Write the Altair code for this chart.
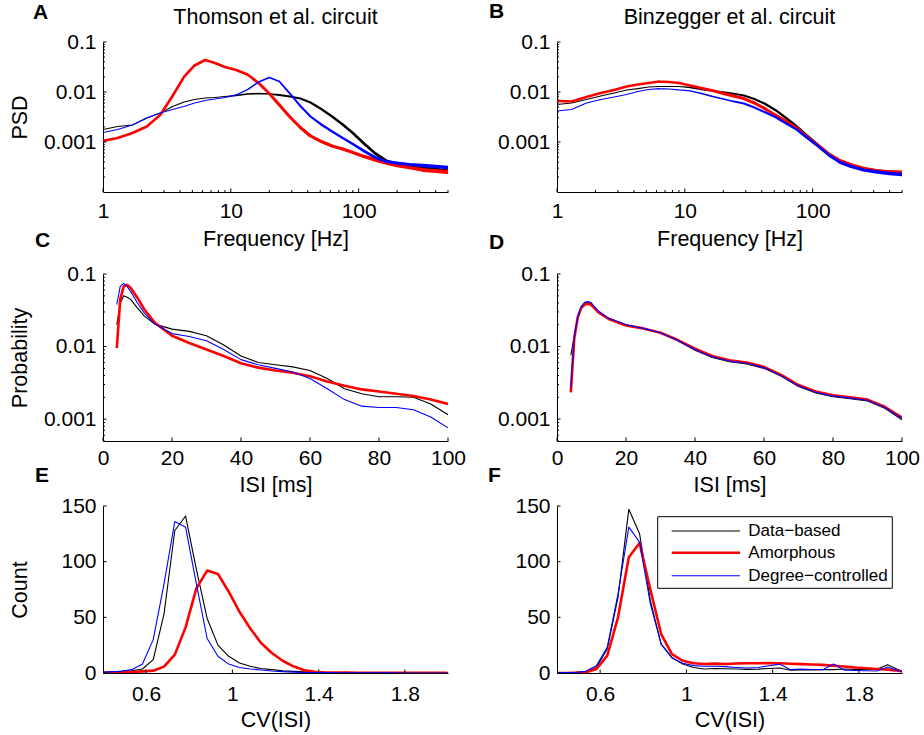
import altair as alt
import pandas as pd

FONT = "Liberation Sans"

# ---------------- series meta ----------------
SERIES = ["Data\u2212based", "Amorphous", "Degree\u2212controlled"]
COLORS = ["#000000", "#ff0000", "#0000ff"]
WIDTHS = [1.1, 2.6, 1.1]
# PSD traces get visually thicker with frequency (dense noisy spectrum): base width, growth
PSD_WIDTH_BASE = [1.1, 2.6, 1.1]
PSD_WIDTH_GROW = [1.4, 0.7, 1.4]

# ---------------- panel A / B: PSD ----------------
freq = [1, 1.3, 1.7, 2.2, 2.8, 3.5, 4.3, 5.2, 6.3, 7.5, 9, 11, 13.5, 16.5, 20, 24, 29, 35,
        42, 51, 62, 75, 90, 110, 135, 165, 200, 250, 320, 400, 500]

psd_thomson_data = [0.00178, 0.00204, 0.00219, 0.00302, 0.00380, 0.00513, 0.00631, 0.00708,
                    0.00759, 0.00776, 0.00813, 0.00851, 0.00912, 0.00933, 0.00912, 0.00871,
                    0.00813, 0.00741, 0.00617, 0.00457, 0.00324, 0.00224, 0.00151, 0.000933,
                    0.000589, 0.000417, 0.000355, 0.000324, 0.000302, 0.000282, 0.000263]
psd_thomson_amorph = [0.00105, 0.00120, 0.00151, 0.00204, 0.00347, 0.00832, 0.0200, 0.0339,
                      0.0437, 0.0380, 0.0316, 0.0275, 0.0224, 0.0151, 0.00933, 0.00550,
                      0.00316, 0.00195, 0.00132, 0.00102, 0.000832, 0.000724, 0.000617,
                      0.000513, 0.000437, 0.000380, 0.000339, 0.000309, 0.000275, 0.000263,
                      0.000251]
psd_thomson_degree = [0.00155, 0.00178, 0.00219, 0.00302, 0.00380, 0.00447, 0.00513, 0.00603,
                      0.00676, 0.00724, 0.00776, 0.00871, 0.0112, 0.0158, 0.0195, 0.0162,
                      0.00933, 0.00525, 0.00324, 0.00224, 0.00162, 0.00120, 0.000912,
                      0.000661, 0.000490, 0.000407, 0.000380, 0.000355, 0.000339, 0.000324,
                      0.000309]

psd_binz_data = [0.00562, 0.00603, 0.00708, 0.00832, 0.00955, 0.0110, 0.0117, 0.0126, 0.0129,
                 0.0129, 0.0129, 0.0123, 0.0112, 0.0105, 0.0100, 0.00933, 0.00851, 0.00724,
                 0.00589, 0.00437, 0.00302, 0.00204, 0.00135, 0.000871, 0.000562, 0.000398,
                 0.000331, 0.000288, 0.000263, 0.000245, 0.000234]
psd_binz_amorph = [0.00661, 0.00646, 0.00794, 0.00955, 0.0110, 0.0129, 0.0141, 0.0151, 0.0162,
                   0.0158, 0.0151, 0.0135, 0.0120, 0.0107, 0.00933, 0.00832, 0.00741, 0.00603,
                   0.00468, 0.00347, 0.00257, 0.00191, 0.00126, 0.000851, 0.000562, 0.000417,
                   0.000347, 0.000295, 0.000263, 0.000251, 0.000245]
psd_binz_degree = [0.00417, 0.00447, 0.00603, 0.00708, 0.00794, 0.00891, 0.0102, 0.0112, 0.0117,
                   0.0115, 0.0110, 0.0105, 0.00933, 0.00813, 0.00724, 0.00646, 0.00589, 0.00490,
                   0.00398, 0.00316, 0.00234, 0.00178, 0.00123, 0.000832, 0.000537, 0.000389,
                   0.000324, 0.000275, 0.000251, 0.000234, 0.000224]

# ---------------- panel C: ISI (Thomson) ----------------
isi_c = [4, 5, 6, 7, 8, 10, 12, 15, 20, 25, 30, 35, 40, 45, 50, 55, 60, 65, 70, 75, 80, 85, 90, 95, 100]
isi_thomson_data = [0.0200, 0.0398, 0.0501, 0.0479, 0.0447, 0.0339, 0.0263, 0.0204, 0.0174,
                    0.0162, 0.0141, 0.0105, 0.00741, 0.00603, 0.00562, 0.00525, 0.00468,
                    0.00363, 0.00263, 0.00224, 0.00204, 0.00204, 0.00200, 0.00162, 0.00115]
isi_thomson_amorph = [0.00955, 0.0447, 0.0676, 0.0708, 0.0646, 0.0468, 0.0324, 0.0214, 0.0141,
                      0.0112, 0.00912, 0.00741, 0.00589, 0.00513, 0.00468, 0.00437, 0.00389,
                      0.00331, 0.00288, 0.00257, 0.00240, 0.00224, 0.00209, 0.00186, 0.00162]
isi_thomson_degree = [0.0380, 0.0676, 0.0741, 0.0676, 0.0575, 0.0398, 0.0288, 0.0204, 0.0151,
                      0.0138, 0.0120, 0.00912, 0.00661, 0.00562, 0.00501, 0.00447, 0.00363,
                      0.00263, 0.00186, 0.00151, 0.00145, 0.00145, 0.00135, 0.00107, 0.000759]

# ---------------- panel D: ISI (Binzegger) ----------------
isi_d = [4, 5, 6, 7, 8, 9, 10, 12, 15, 20, 25, 30, 35, 40, 45, 50, 55, 60, 65, 70, 75, 80, 85, 90, 95, 100]
isi_binz_data = [0.00759, 0.0138, 0.0257, 0.0355, 0.0398, 0.0407, 0.0389, 0.0302, 0.0245, 0.0200,
                 0.0178, 0.0155, 0.0120, 0.00891, 0.00708, 0.00617, 0.00575, 0.00501, 0.00389,
                 0.00282, 0.00229, 0.00204, 0.00191, 0.00178, 0.00141, 0.000977]
isi_binz_amorph = [0.00234, 0.0129, 0.0251, 0.0339, 0.0380, 0.0389, 0.0372, 0.0295, 0.0240, 0.0195,
                   0.0178, 0.0155, 0.0123, 0.00933, 0.00741, 0.00646, 0.00603, 0.00525, 0.00407,
                   0.00295, 0.00240, 0.00214, 0.00200, 0.00186, 0.00148, 0.00105]
isi_binz_degree = [0.00275, 0.0135, 0.0257, 0.0355, 0.0407, 0.0417, 0.0398, 0.0309, 0.0245, 0.0200,
                   0.0178, 0.0155, 0.0122, 0.00912, 0.00724, 0.00631, 0.00589, 0.00513, 0.00398,
                   0.00288, 0.00234, 0.00209, 0.00195, 0.00182, 0.00145, 0.00102]

# ---------------- panel E / F: CV(ISI) histograms ----------------
cv = [0.383, 0.433, 0.483, 0.533, 0.583, 0.633, 0.683, 0.733, 0.783, 0.833, 0.883, 0.933,
      0.983, 1.033, 1.083, 1.133, 1.183, 1.233, 1.283, 1.333, 1.383, 1.433, 1.483, 1.533,
      1.583, 1.633, 1.683, 1.733, 1.783, 1.833, 1.883, 1.933, 1.983, 2.033]
cv_thomson_data = [0.3, 1, 1.5, 2, 3.6, 12, 53, 128, 141, 93, 49, 25, 15, 9, 6, 4, 3, 2, 1.5, 1,
                   0.7, 0.5, 0.4, 0.3, 0.2, 0.2, 0.1, 0.1, 0.1, 0.1, 0, 0, 0, 0]
cv_thomson_amorph = [0.2, 0.3, 0.6, 0.9, 1.5, 2.1, 5.7, 16.5, 41, 76, 92, 89, 73, 55, 40, 27, 18,
                     11, 6, 2.4, 1, 0.5, 0.3, 0.3, 0.2, 0.2, 0.2, 0.1, 0.1, 0.1, 0.1, 0.1, 0.1, 0]
cv_thomson_degree = [0.3, 1, 1.5, 3, 8, 30, 80, 136, 131, 80, 31, 15, 8, 5, 3.6, 2.7, 1.8, 1.2,
                     0.8, 0.5, 0.4, 0.3, 0.2, 0.2, 0.1, 0.1, 0.1, 0.1, 0, 0, 0, 0, 0, 0]
cv_binz_data = [0, 0.3, 0.3, 1.2, 5, 21.6, 68, 147, 125, 65, 26, 14, 8, 5, 3.6, 4, 3.8, 3.6, 3.3,
                3.5, 4, 4.5, 2.5, 2.7, 2.8, 3, 3, 3.6, 3.3, 3.3, 3.3, 7.5, 3, 0]
cv_binz_amorph = [0, 0, 0.2, 0.6, 3.6, 15.6, 50, 104, 116.7, 75, 35, 17, 11, 8.7, 8.1, 8.4, 8.1,
                  8.5, 8.7, 8.8, 9, 8.8, 8.3, 8, 7.7, 7.3, 6.5, 5.8, 4.9, 4.3, 3.6, 3, 2, 0]
cv_binz_degree = [0, 0.3, 0.5, 1.5, 6.6, 23, 71, 131, 117.6, 62, 26, 13.5, 8.7, 6.6, 6, 6, 5.7, 5,
                  4.5, 5, 6.5, 8, 3, 3.5, 3.2, 3, 8, 2.5, 2.3, 2, 1.8, 5.4, 2, 0]

# ---------------- axis tick lists ----------------
freq_major = [1, 10, 100]
freq_minor = [2, 3, 4, 5, 6, 7, 8, 9, 20, 30, 40, 50, 60, 70, 80, 90, 200, 300, 400, 500]
psd_major = [0.001, 0.01, 0.1]
psd_minor = [0.0002, 0.0003, 0.0004, 0.0005, 0.0006, 0.0007, 0.0008, 0.0009,
             0.002, 0.003, 0.004, 0.005, 0.006, 0.007, 0.008, 0.009,
             0.02, 0.03, 0.04, 0.05, 0.06, 0.07, 0.08, 0.09]
prob_major = [0.001, 0.01, 0.1]
prob_minor = [0.0005, 0.0006, 0.0007, 0.0008, 0.0009,
              0.002, 0.003, 0.004, 0.005, 0.006, 0.007, 0.008, 0.009,
              0.02, 0.03, 0.04, 0.05, 0.06, 0.07, 0.08, 0.09]
isi_major = [0, 20, 40, 60, 80, 100]
cv_major = [0.6, 1, 1.4, 1.8]
count_major = [0, 50, 100, 150]

W = 345
H = 167
H1 = 150  # plot height of first row
TICK_FS = 21
TITLE_FS = 21.5


def x_axis(values, fmt, title, label_pad, title_y, offset=0):
    return alt.Axis(values=values, format=fmt, title=title, grid=False, ticks=False, tickSize=0,
                    domainColor="black", domainWidth=1, labelFont=FONT, labelFontSize=TICK_FS,
                    labelColor="black", labelPadding=label_pad, labelBaseline="alphabetic",
                    labelFlush=False, labelOverlap=False,
                    titleFont=FONT, titleFontSize=TITLE_FS, titleFontWeight="normal", titleColor="black",
                    titleX=W / 2, titleY=title_y, titleBaseline="alphabetic", titleAlign="center",
                    offset=offset)


def y_axis(values, fmt, title, plot_h):
    return alt.Axis(values=values, format=fmt, title=title, grid=False, ticks=False, tickSize=0,
                    domainColor="black", domainWidth=1, labelFont=FONT, labelFontSize=TICK_FS,
                    labelColor="black", labelPadding=7, labelBaseline="middle",
                    labelFlush=False, labelOverlap=False,
                    titleFont=FONT, titleFontSize=TITLE_FS, titleFontWeight="normal", titleColor="black",
                    titleX=-83, titleY=plot_h / 2, titleBaseline="middle", titleAlign="center",
                    titleAngle=270)


def text_layer(txt, x, y, size, bold=False, align="left", baseline="alphabetic"):
    return alt.Chart(pd.DataFrame({"t": [txt]})).mark_text(
        align=align, baseline=baseline, fontSize=size, font=FONT,
        fontWeight="bold" if bold else "normal", color="black"
    ).encode(x=alt.value(x), y=alt.value(y), text="t:N")


def curve_layers(xv, curves, xs, ys, xax, yax, psd=False):
    layers = []
    for i, (vals, col) in enumerate(zip(curves, COLORS)):
        df = pd.DataFrame({"x": xv, "y": vals})
        if psd:
            base, grow = PSD_WIDTH_BASE[i], PSD_WIDTH_GROW[i]
            layers.append(alt.Chart(df).transform_calculate(
                w=f"{base} + {grow} * max(0, log(datum.x) / LN10 - 0.9)"
            ).mark_trail(color=col, clip=True).encode(
                x=alt.X("x:Q", scale=xs, axis=xax),
                y=alt.Y("y:Q", scale=ys, axis=yax),
                size=alt.Size("w:Q", scale=None, legend=None)))
        else:
            layers.append(alt.Chart(df).mark_line(color=col, strokeWidth=WIDTHS[i], clip=True,
                                                  strokeJoin="round").encode(
                x=alt.X("x:Q", scale=xs, axis=xax),
                y=alt.Y("y:Q", scale=ys, axis=yax)))
    return layers


def panel(xv, curves, xs, ys, xax, yax, plot_h, xmaj, xmin, ymaj, ymin, texts, psd=False):
    layers = curve_layers(xv, curves, xs, ys, xax, yax, psd)
    for vals, ln in ((ymaj, 3.5), (ymin, 2)):
        if vals:
            layers.append(alt.Chart(pd.DataFrame({"y": vals})).mark_rule(color="black", strokeWidth=1).encode(
                y=alt.Y("y:Q", scale=ys, axis=yax), x=alt.value(0), x2=alt.value(ln)))
    for vals, ln in ((xmaj, 3.5), (xmin, 2)):
        if vals:
            layers.append(alt.Chart(pd.DataFrame({"x": vals})).mark_rule(color="black", strokeWidth=1).encode(
                x=alt.X("x:Q", scale=xs, axis=xax), y=alt.value(plot_h), y2=alt.value(plot_h - ln)))
    layers += texts
    return alt.layer(*layers).properties(width=W, height=H)


fx = alt.Scale(type="log", domain=[1, 500], nice=False)
psd_y = alt.Scale(type="log", domain=[0.0001, 0.1], range=[H1, 0], nice=False)
isi_x = alt.Scale(domain=[0, 100], nice=False, zero=False)
prob_y = alt.Scale(type="log", domain=[0.0005, 0.1], nice=False)
cv_x = alt.Scale(domain=[0.4, 2.0], nice=False, zero=False)
cnt_y = alt.Scale(domain=[0, 150], nice=False)

pA = panel(freq, [psd_thomson_data, psd_thomson_amorph, psd_thomson_degree], fx, psd_y,
           x_axis(freq_major, "~g", "Frequency [Hz]", 25, 53, offset=H1 - H),
           y_axis(psd_major, "~g", "PSD", H1), H1, freq_major, freq_minor, psd_major, psd_minor,
           [text_layer("A", -70, -23, 21, bold=True),
            text_layer("Thomson et al. circuit", W / 2, -18, TITLE_FS, align="center")], psd=True)
pB = panel(freq, [psd_binz_data, psd_binz_amorph, psd_binz_degree], fx, psd_y,
           x_axis(freq_major, "~g", "Frequency [Hz]", 25, 53, offset=H1 - H),
           y_axis(psd_major, "~g", "", H1), H1, freq_major, freq_minor, psd_major, psd_minor,
           [text_layer("B", -68, -24, 21, bold=True),
            text_layer("Binzegger et al. circuit", W / 2, -18, TITLE_FS, align="center")], psd=True)
pC = panel(isi_c, [isi_thomson_data, isi_thomson_amorph, isi_thomson_degree], isi_x, prob_y,
           x_axis(isi_major, "d", "ISI [ms]", 23, 50),
           y_axis(prob_major, "~g", "Probability", H), H, isi_major, [], prob_major, prob_minor,
           [text_layer("C", -68, -27, 21, bold=True)])
pD = panel(isi_d, [isi_binz_data, isi_binz_amorph, isi_binz_degree], isi_x, prob_y,
           x_axis(isi_major, "d", "ISI [ms]", 23, 50),
           y_axis(prob_major, "~g", "", H), H, isi_major, [], prob_major, prob_minor,
           [text_layer("D", -68, -25, 21, bold=True)])
pE = panel(cv, [cv_thomson_data, cv_thomson_amorph, cv_thomson_degree], cv_x, cnt_y,
           x_axis(cv_major, "~g", "CV(ISI)", 27, 53),
           y_axis(count_major, "d", "Count", H), H, cv_major, [], count_major, [],
           [text_layer("E", -68, -24, 21, bold=True)])

# legend drawn inside panel F
legend_layers = [alt.Chart(pd.DataFrame({"t": [0]})).mark_rect(
    fill="white", stroke="black", strokeWidth=1).encode(
    x=alt.value(100.7), x2=alt.value(335.3), y=alt.value(10.7), y2=alt.value(82.3))]
for name, col, sw, yy in zip(SERIES, COLORS, WIDTHS, [25, 46.7, 69.7]):
    legend_layers.append(alt.Chart(pd.DataFrame({"t": [name]})).mark_rule(
        color=col, strokeWidth=sw).encode(x=alt.value(114.7), x2=alt.value(183), y=alt.value(yy)))
    legend_layers.append(text_layer(name, 191.3, yy, 17, baseline="middle"))

pF = panel(cv, [cv_binz_data, cv_binz_amorph, cv_binz_degree], cv_x, cnt_y,
           x_axis(cv_major, "~g", "CV(ISI)", 27, 53),
           y_axis(count_major, "d", "", H), H, cv_major, [], count_major, [],
           [text_layer("F", -69, -24, 21, bold=True)] + legend_layers)

chart = alt.concat(pA, pB, pC, pD, pE, pF, columns=2, spacing={"row": 65, "column": 109},
                   bounds="flush").properties(
    padding={"left": 103, "top": 42, "right": 821, "bottom": 693},
    autosize=alt.AutoSizeParams(type="none"),
    background="white",
).configure(font=FONT).configure_view(stroke=None)

chart.save("out.html", embed_options={"renderer": "svg", "actions": False})
